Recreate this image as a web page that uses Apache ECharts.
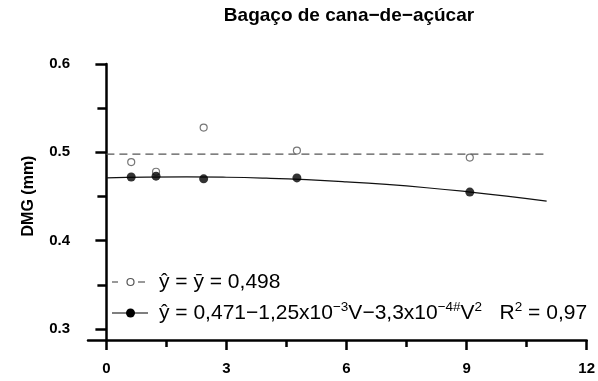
<!DOCTYPE html>
<html>
<head>
<meta charset="utf-8">
<script src="https://cdn.jsdelivr.net/npm/echarts@6/dist/echarts.min.js"></script>
<style>
  html, body { margin: 0; padding: 0; background: #ffffff; }
  #chart { width: 598px; height: 381px; }
</style>
</head>
<body>
<div id="chart"></div>
<script>
// Volume levels (x) and measured DMG values
const volumes = [0.62, 1.24, 2.43, 4.76, 9.08];
const dmgOpen = [0.489, 0.478, 0.528, 0.502, 0.494];
const dmgFilled = [0.472, 0.473, 0.470, 0.471, 0.455];

// Mean line of the open-circle series
const meanValue = 0.498;
const meanRange = [0, 11];

// Fitted quadratic curve for the filled series
const curveX = [0, 1, 2, 3, 4, 5, 6, 7, 8, 9, 10, 11];
const curveY = [0.4710, 0.4719, 0.4722, 0.4718, 0.4707, 0.4690, 0.4666, 0.4636, 0.4599, 0.4555, 0.4505, 0.4448];

// Axis ticks
const xTicks = [0, 3, 6, 9, 12];
const xMinorTicks = [1.5, 4.5, 7.5, 10.5];
const yTicks = [0.3, 0.4, 0.5, 0.6];
const yMinorTicks = [0.35, 0.45, 0.55];

const titleText = 'Bagaço de cana−de−açúcar';
const yName = 'DMG (mm)';

const FONT = 'Liberation Sans, Arial, sans-serif';
const X_MIN = -0.46, X_MAX = 12;
const Y_MIN = 0.2875, Y_MAX = 0.6;

const chart = echarts.init(document.getElementById('chart'), null, { renderer: 'canvas' });

const axisStyle = { color: '#000', width: 2.5 };

const option = {
  animation: false,
  backgroundColor: '#ffffff',
  grid: { left: 88, right: 7, top: 64, bottom: 41, containLabel: false },
  xAxis: [
    {
      type: 'value', min: X_MIN, max: X_MAX,
      axisLine: { show: true, lineStyle: axisStyle },
      axisTick: { show: true, length: 10, lineStyle: axisStyle, customValues: xTicks },
      axisLabel: {
        show: true, customValues: xTicks, margin: 21,
        color: '#000', fontFamily: FONT, fontWeight: 'bold', fontSize: 15
      },
      splitLine: { show: false }
    },
    {
      type: 'value', min: X_MIN, max: X_MAX, position: 'bottom',
      axisLine: { show: false },
      axisTick: { show: true, length: 7, lineStyle: axisStyle, customValues: xMinorTicks },
      axisLabel: { show: false },
      splitLine: { show: false }
    }
  ],
  yAxis: [
    {
      type: 'value', min: Y_MIN, max: Y_MAX,
      axisLine: { show: true, lineStyle: axisStyle },
      axisTick: { show: true, length: 11, lineStyle: axisStyle, customValues: yTicks },
      axisLabel: {
        show: true, customValues: yTicks, margin: 18,
        formatter: v => v.toFixed(1),
        color: '#000', fontFamily: FONT, fontWeight: 'bold', fontSize: 15
      },
      splitLine: { show: false }
    },
    {
      type: 'value', min: Y_MIN, max: Y_MAX, position: 'left',
      axisLine: { show: false },
      axisTick: { show: true, length: 9, lineStyle: axisStyle, customValues: yMinorTicks },
      axisLabel: { show: false },
      splitLine: { show: false }
    }
  ],
  series: [
    {
      name: 'mean', type: 'line',
      data: meanRange.map(x => [x, meanValue]),
      showSymbol: false, symbol: 'none',
      lineStyle: { color: '#555', width: 1.3, type: [8, 5] },
      z: 2
    },
    {
      name: 'fit', type: 'line', smooth: true,
      data: curveX.map((x, i) => [x, curveY[i]]),
      showSymbol: false, symbol: 'none',
      lineStyle: { color: '#111', width: 1.2 },
      z: 2
    },
    {
      name: 'open', type: 'scatter',
      data: volumes.map((x, i) => [x, dmgOpen[i]]),
      symbol: 'circle', symbolSize: 7,
      itemStyle: { color: '#fff', borderColor: '#555', borderWidth: 1.2 },
      z: 3
    },
    {
      name: 'filled', type: 'scatter',
      data: volumes.map((x, i) => [x, dmgFilled[i]]),
      symbol: 'circle', symbolSize: 9,
      itemStyle: { color: '#000' },
      z: 4
    }
  ],
  graphic: [
    {
      type: 'text', x: 349, y: 16,
      style: {
        text: titleText, align: 'center', verticalAlign: 'middle',
        fill: '#000', font: 'bold 19px ' + FONT
      }
    },
    {
      type: 'text', x: 29, y: 196, rotation: Math.PI / 2,
      style: {
        text: yName, align: 'center', verticalAlign: 'middle',
        fill: '#000', font: 'bold 16px ' + FONT
      }
    },
    // legend row 1: dashed mean line with open circle
    { type: 'line', shape: { x1: 112, y1: 282, x2: 118, y2: 282 }, style: { stroke: '#555', lineWidth: 1.2 } },
    { type: 'line', shape: { x1: 138, y1: 282, x2: 145, y2: 282 }, style: { stroke: '#555', lineWidth: 1.2 } },
    { type: 'circle', shape: { cx: 130.5, cy: 282, r: 3.5 }, style: { fill: '#fff', stroke: '#555', lineWidth: 1.2 } },
    {
      type: 'text', x: 159, y: 282,
      style: {
        text: '{t|ŷ = ȳ = 0,498}', verticalAlign: 'middle',
        rich: { t: { fontSize: 21, fontFamily: FONT, lineHeight: 25, fill: '#000' } }
      }
    },
    // legend row 2: solid fit line with filled circle
    { type: 'line', shape: { x1: 112, y1: 313, x2: 148, y2: 313 }, style: { stroke: '#000', lineWidth: 1.2 } },
    { type: 'circle', shape: { cx: 130.5, cy: 313, r: 4.5 }, style: { fill: '#000' } },
    {
      type: 'text', x: 159, y: 313,
      style: {
        text: '{t|ŷ = 0,471−1,25x10}{s|−3}{t|V−3,3x10}{s|−4#}{t|V}{s|2}{t|   R}{s|2}{t| = 0,97}',
        verticalAlign: 'middle',
        rich: {
          t: { fontSize: 21, fontFamily: FONT, lineHeight: 25, fill: '#000' },
          s: { fontSize: 13.5, fontFamily: FONT, lineHeight: 14, verticalAlign: 'top', fill: '#000' }
        }
      }
    }
  ]
};

chart.setOption(option);
</script>
</body>
</html>
